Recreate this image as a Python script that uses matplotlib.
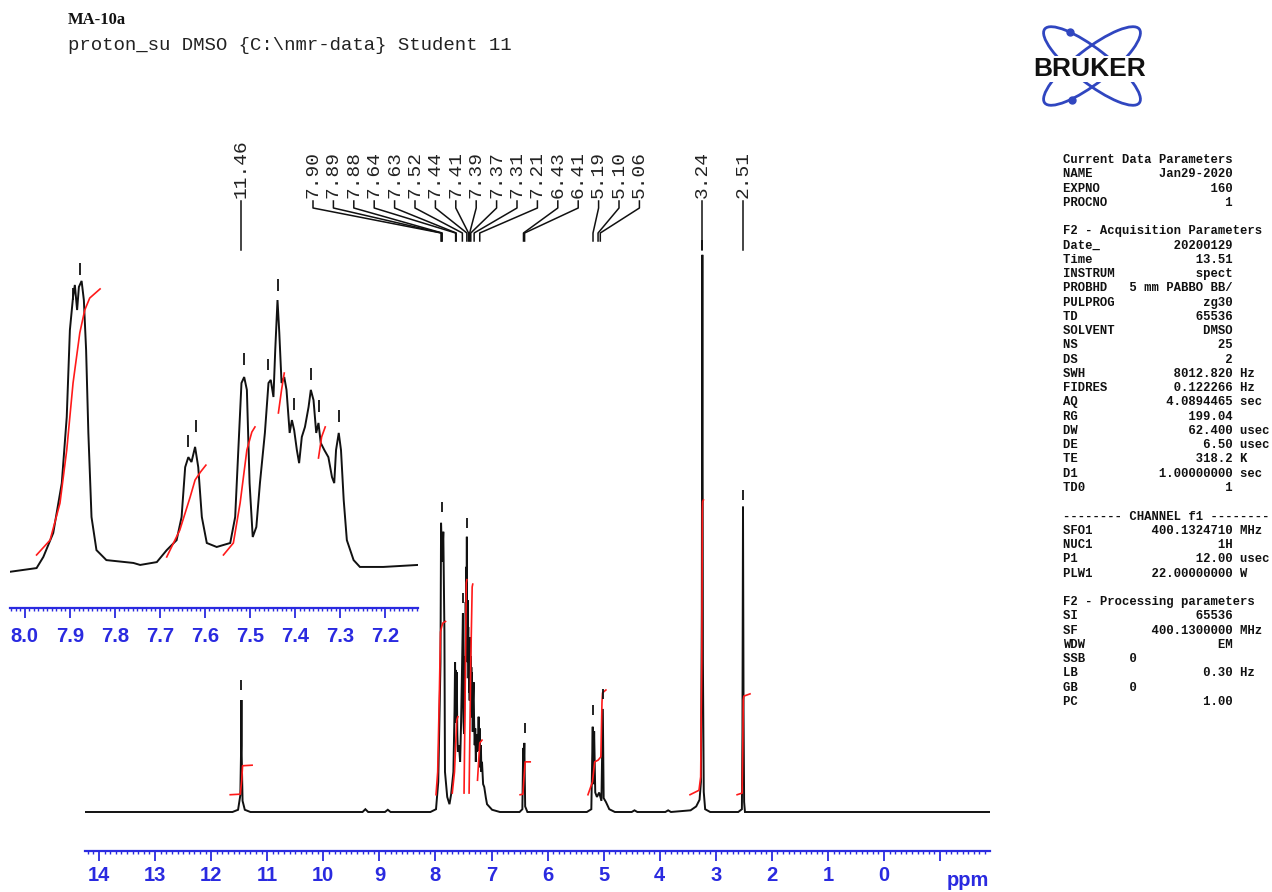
import numpy as np
import matplotlib
matplotlib.use("Agg")
import matplotlib.pyplot as plt
import matplotlib.transforms as mtransforms
from matplotlib.patches import Ellipse
from matplotlib.ticker import FixedLocator, FixedFormatter, MultipleLocator

W, H = 1272, 892
BLUE = "#2a2ae0"
RED = "#ff1a1a"
INK = "#111111"

# ---- main spectrum, relative intensity (3.24 ppm line = 100) ----
MAIN_PPM = [
    14.25, 11.62, 11.52, 11.48, 11.465, 11.46, 11.455, 11.44, 11.40, 11.30,
    9.30, 9.25, 9.20, 8.90, 8.85, 8.80,
    8.09, 7.99, 7.95, 7.91, 7.90, 7.88, 7.86, 7.84, 7.83, 7.79, 7.75, 7.72,
    7.68, 7.66, 7.65, 7.645, 7.64, 7.635, 7.63, 7.625, 7.62, 7.61,
    7.60, 7.58, 7.56, 7.545, 7.53, 7.52, 7.51, 7.505, 7.50, 7.49,
    7.48, 7.475, 7.47, 7.46, 7.455, 7.45, 7.445, 7.44, 7.435, 7.43,
    7.425, 7.42, 7.415, 7.41, 7.405, 7.40, 7.395, 7.39, 7.385, 7.38,
    7.375, 7.37, 7.365, 7.36, 7.355, 7.35, 7.345, 7.34, 7.335, 7.33,
    7.32, 7.31, 7.30, 7.29, 7.28, 7.27, 7.26, 7.25, 7.24, 7.23,
    7.22, 7.21, 7.20, 7.19, 7.18, 7.17, 7.15, 7.13, 7.10, 7.08,
    6.99, 6.85,
    6.50, 6.45, 6.435, 6.425, 6.415, 6.40, 6.36,
    5.30, 5.22, 5.195, 5.185, 5.17, 5.15, 5.12, 5.08, 5.04, 5.015, 5.00, 4.96, 4.90, 4.80,
    4.50, 4.45, 4.40, 3.90, 3.85, 3.80,
    3.45, 3.35, 3.29, 3.265, 3.25, 3.24, 3.23, 3.215, 3.19, 3.10,
    2.60, 2.535, 2.525, 2.515, 2.505, 2.495, 2.48, -1.89,
]
MAIN_INT = [
    0, 0, 0.4, 3, 12, 20.1, 10, 2, 0.4, 0,
    0, 0.5, 0, 0, 0.4, 0,
    0, 0.5, 5.4, 26.9, 51.9, 44.9, 50.3, 32.3, 7.2, 2.7, 1.4, 3.2,
    7.2, 18.0, 26.9, 20.0, 25.5, 18.0, 22.4, 16.0, 25.1, 14.0,
    10.8, 12.0, 9.0, 15.0, 23.3, 30.0, 35.7, 20.0, 16.2, 14.0,
    19.7, 28.0, 24.0, 37.7, 30.0, 44.0, 36.0, 49.4, 32.0, 26.9,
    38.0, 30.0, 33.2, 24.0, 30.0, 21.5, 28.0, 20.0, 27.0, 31.4,
    22.0, 28.0, 19.7, 26.0, 18.0, 25.1, 17.0, 22.0, 14.4, 20.0,
    23.3, 16.0, 12.0, 15.0, 9.0, 13.0, 10.8, 14.0, 12.0, 17.1,
    11.0, 15.0, 8.0, 12.0, 7.2, 9.0, 5.0, 4.5, 2.5, 1.4,
    0.4, 0,
    0, 0.5, 11.5, 8.0, 12.4, 1.0, 0,
    0, 0.5, 15.3, 5.0, 14.5, 3.5, 2.7, 3.5, 2.0, 18.5, 2.5, 1.8, 0.5, 0,
    0, 0.3, 0, 0, 0.3, 0,
    0.3, 1.0, 2.2, 5.4, 35.9, 100, 27.0, 3.6, 0.5, 0,
    0, 0.5, 14.4, 54.8, 18.0, 1.8, 0, 0,
]

MAIN_INTEGRALS = [
    ([11.66, 11.48, 11.455, 11.44, 11.27], [3.1, 3.2, 5.7, 8.3, 8.4]),
    ([7.99, 7.96, 7.93, 7.91, 7.89, 7.87, 7.82], [3.1, 7.2, 21.5, 32.3, 33.2, 33.9, 34.2]),
    ([7.70, 7.66, 7.62, 7.60], [3.4, 7.2, 16.5, 17.1]),
    ([7.49, 7.47, 7.45, 7.44], [3.4, 21.5, 41.1, 41.7]),
    ([7.40, 7.37, 7.345, 7.335], [3.4, 26.9, 40.4, 40.9]),
    ([7.25, 7.21, 7.17], [5.7, 12.4, 12.9]),
    ([6.49, 6.44, 6.42, 6.40, 6.31], [3.1, 3.2, 6.3, 9.0, 9.0]),
    ([5.28, 5.20, 5.16, 5.10, 5.05, 5.03, 5.02, 4.96], [3.1, 5.4, 9.0, 9.3, 9.9, 19.7, 21.4, 21.9]),
    ([3.46, 3.30, 3.27, 3.25, 3.24, 3.235, 3.22], [3.1, 3.9, 6.3, 26.9, 53.9, 55.7, 56.0]),
    ([2.62, 2.53, 2.52, 2.51, 2.50, 2.39], [3.1, 3.4, 10.8, 20.1, 20.8, 21.2]),
]

MAIN_MARK_PPM = [11.46, 7.88, 7.51, 7.43, 6.41, 5.19, 5.015, 3.24, 2.515]
MAIN_MARK_INT = [21.9, 53.9, 37.5, 51.0, 14.2, 17.4, 20.3, 100.9, 56.0]

# ---- expanded aromatic region ----
INSET_PPM = [
    8.033, 7.974, 7.959, 7.937, 7.918, 7.907, 7.900, 7.893, 7.889, 7.884,
    7.880, 7.874, 7.869, 7.864, 7.859, 7.852, 7.841, 7.819, 7.759, 7.744,
    7.707, 7.685, 7.663, 7.652, 7.644, 7.637, 7.630, 7.622, 7.615, 7.607,
    7.596, 7.574, 7.544, 7.533, 7.526, 7.519, 7.513, 7.507, 7.501, 7.494,
    7.486, 7.478, 7.467, 7.459, 7.454, 7.448, 7.444, 7.439, 7.435, 7.430,
    7.424, 7.419, 7.412, 7.407, 7.402, 7.396, 7.391, 7.385, 7.378, 7.370,
    7.365, 7.359, 7.353, 7.348, 7.343, 7.335, 7.326, 7.318, 7.313, 7.309,
    7.303, 7.298, 7.292, 7.285, 7.270, 7.256, 7.204, 7.127,
]
INSET_INT = [
    -0.6, 0.7, 4.6, 13.0, 30.5, 53.7, 84.2, 95.8, 100.0, 91.2,
    99.3, 101.4, 94.7, 77.2, 48.1, 18.6, 7.0, 3.5, 2.5, 1.8,
    2.8, 7.0, 10.5, 18.6, 36.1, 39.6, 37.9, 43.2, 36.1, 18.6,
    9.5, 8.1, 9.5, 18.6, 42.1, 65.6, 67.7, 63.2, 30.5, 11.6,
    15.1, 30.5, 48.1, 65.6, 66.7, 60.7, 77.2, 94.7, 83.2, 65.6,
    67.7, 63.2, 48.1, 52.6, 49.1, 42.1, 37.5, 46.7, 50.2, 57.2,
    63.2, 59.6, 48.1, 51.6, 44.6, 42.1, 39.6, 32.6, 30.5, 42.1,
    48.1, 42.1, 24.6, 10.5, 3.5, 1.1, 1.1, 1.8,
]

INSET_INTEGRALS = [
    ([7.974, 7.944, 7.922, 7.907, 7.893, 7.878, 7.867, 7.856, 7.833],
     [5.3, 10.5, 23.5, 42.1, 65.6, 83.2, 91.2, 95.4, 98.6]),
    ([7.685, 7.656, 7.633, 7.622, 7.610, 7.598], [4.6, 14.0, 25.6, 31.6, 34.4, 36.8]),
    ([7.559, 7.537, 7.522, 7.507, 7.496, 7.489], [5.3, 9.5, 23.5, 42.1, 48.4, 50.2]),
    ([7.437, 7.430, 7.424], [55.1, 63.2, 69.1]),
    ([7.348, 7.341, 7.333], [39.3, 46.7, 50.2]),
]

INSET_MARK_PPM = [7.893, 7.878, 7.638, 7.620, 7.513, 7.459, 7.437, 7.402, 7.365, 7.347, 7.302]
INSET_MARK_INT = [94.7, 103.5, 43.2, 48.4, 72.0, 70.0, 98.0, 56.0, 66.7, 55.4, 52.0]
INSET_TICKS = [8.0, 7.9, 7.8, 7.7, 7.6, 7.5, 7.4, 7.3, 7.2]

MAIN_TICKS = list(range(14, -2, -1))

PEAK_LABELS = ["11.46", "7.90", "7.89", "7.88", "7.64", "7.63", "7.52", "7.44", "7.41",
               "7.39", "7.37", "7.31", "7.21", "6.43", "6.41", "5.19", "5.10", "5.06",
               "3.24", "2.51"]
STRAIGHT_LABELS = {"11.46", "3.24", "2.51"}

TITLE = "MA-10a"
SUBTITLE = "proton_su DMSO {C:\\nmr-data} Student 11"

# (name, value, unit); value None -> line printed as is
PARAMS = [
    ("Current Data Parameters", None, None),
    ("NAME", "Jan29-2020", ""), ("EXPNO", "160", ""), ("PROCNO", "1", ""),
    ("", None, None),
    ("F2 - Acquisition Parameters", None, None),
    ("Date_", "20200129", ""), ("Time", "13.51", ""), ("INSTRUM", "spect", ""),
    ("PROBHD", "5 mm PABBO BB/", ""), ("PULPROG", "zg30", ""), ("TD", "65536", ""),
    ("SOLVENT", "DMSO", ""), ("NS", "25", ""), ("DS", "2", ""),
    ("SWH", "8012.820", "Hz"), ("FIDRES", "0.122266", "Hz"), ("AQ", "4.0894465", "sec"),
    ("RG", "199.04", ""), ("DW", "62.400", "usec"), ("DE", "6.50", "usec"),
    ("TE", "318.2", "K"), ("D1", "1.00000000", "sec"), ("TD0", "1", ""),
    ("", None, None),
    ("-------- CHANNEL f1 --------", None, None),
    ("SFO1", "400.1324710", "MHz"), ("NUC1", "1H", ""), ("P1", "12.00", "usec"),
    ("PLW1", "22.00000000", "W"),
    ("", None, None),
    ("F2 - Processing parameters", None, None),
    ("SI", "65536", ""), ("SF", "400.1300000", "MHz"), ("WDW", "EM", ""),
    ("SSB      0", None, None), ("LB", "0.30", "Hz"), ("GB       0", None, None),
    ("PC", "1.00", ""),
]


def style_ppm_axis(ax, label_pad):
    for side in ("top", "left", "right"):
        ax.spines[side].set_visible(False)
    ax.spines["bottom"].set_color(BLUE)
    ax.spines["bottom"].set_linewidth(1.6)
    ax.set_yticks([])
    ax.set_facecolor("none")
    ax.tick_params(axis="x", which="major", direction="out", length=7.5, width=1.3,
                   color=BLUE, pad=label_pad, labelsize=14.5, labelcolor=BLUE)
    ax.tick_params(axis="x", which="minor", direction="out", length=2.5, width=1.0, color=BLUE)
    for lab in ax.get_xticklabels():
        lab.set_fontweight("bold")
        lab.set_fontfamily("Liberation Sans")


def draw_spectrum(ax, ppm, inten, integrals, mark_ppm, mark_int, mark_len):
    ax.plot(ppm, inten, color=INK, lw=1.4, solid_joinstyle="miter")
    for ip, ii in integrals:
        ax.plot(ip, ii, color=RED, lw=1.2)
    ax.vlines(mark_ppm, mark_int, np.array(mark_int) + mark_len, color=INK, lw=1.3)


def main():
    fig = plt.figure(figsize=(W / 100, H / 100), dpi=100)

    # ---- full spectrum ----
    ax = fig.add_axes([85 / W, 1 - 851 / H, 905 / W, (851 - 120) / H])
    ax.set_xlim(14.25, -1.89)
    ax.set_ylim(-7.0, 124.2)
    ax.xaxis.set_major_locator(FixedLocator(MAIN_TICKS))
    ax.xaxis.set_major_formatter(FixedFormatter([str(t) if t >= 0 else "" for t in MAIN_TICKS]))
    ax.xaxis.set_minor_locator(MultipleLocator(0.1))
    style_ppm_axis(ax, 3.0)
    draw_spectrum(ax, MAIN_PPM, MAIN_INT, MAIN_INTEGRALS, MAIN_MARK_PPM, MAIN_MARK_INT, 1.8)
    fig.text(968 / W, 1 - 880 / H, "ppm", color=BLUE, fontsize=14.5, fontweight="bold",
             family="Liberation Sans", ha="center", va="center")

    # ---- peak labels with fan lines ----
    top_px = mtransforms.Affine2D().scale(1 / W, -1 / H).translate(0, 1) + fig.transFigure
    lab_tr = mtransforms.blended_transform_factory(ax.transData, top_px)
    inv = ax.transData.inverted()
    fan = [l for l in PEAK_LABELS if l not in STRAIGHT_LABELS]
    fan_x = {l: inv.transform((313 + 20.4 * i, 0))[0] for i, l in enumerate(fan)}
    for lab in PEAK_LABELS:
        p = float(lab)
        lx = p if lab in STRAIGHT_LABELS else fan_x[lab]
        ax.text(lx, 198, lab, transform=lab_tr, rotation=90, ha="center", va="bottom",
                family="Liberation Mono", fontsize=14, color="#222222", clip_on=False)
        if lab in STRAIGHT_LABELS:
            ax.plot([p, p], [201, 250], transform=lab_tr, color=INK, lw=1.1, clip_on=False)
        else:
            ax.plot([lx, lx, p, p], [201, 208, 233, 241], transform=lab_tr,
                    color=INK, lw=1.1, clip_on=False)

    # ---- expansion 8.0 - 7.2 ppm ----
    axi = fig.add_axes([10 / W, 1 - 608 / H, 408 / W, (608 - 255) / H])
    axi.set_xlim(8.033, 7.127)
    axi.set_ylim(-13.3, 110.5)
    axi.xaxis.set_major_locator(FixedLocator(INSET_TICKS))
    axi.xaxis.set_major_formatter(FixedFormatter([f"{t:.1f}" for t in INSET_TICKS]))
    axi.xaxis.set_minor_locator(MultipleLocator(0.01))
    style_ppm_axis(axi, 6.0)
    draw_spectrum(axi, INSET_PPM, INSET_INT, INSET_INTEGRALS, INSET_MARK_PPM, INSET_MARK_INT, 4.2)

    # ---- header ----
    fig.text(68 / W, 1 - 20 / H, TITLE, family="Liberation Serif", fontweight="bold",
             fontsize=12, va="center", color=INK)
    fig.text(68 / W, 1 - 45 / H, SUBTITLE, family="Liberation Mono", fontsize=13.7,
             va="center", color="#222222")

    # ---- parameter table ----
    row = 0
    for name, value, unit in PARAMS:
        if value is None:
            line = name
        else:
            line = name + value.rjust(23 - len(name))
            if unit:
                line += " " + unit
        if line:
            fig.text(1063 / W, 1 - (160 + 14.26 * row) / H, line, family="Liberation Mono",
                     fontweight="bold", fontsize=8.8, va="center", color=INK)
        row += 1

    # ---- Bruker logo ----
    axl = fig.add_axes([1020 / W, 1 - 112 / H, 145 / W, 94 / H])
    axl.set_xlim(1020, 1165)
    axl.set_ylim(112, 18)
    axl.axis("off")
    for ang in (38, -38):
        axl.add_patch(Ellipse((1092, 66), 120, 34, angle=ang, fill=False,
                              edgecolor="#3046c0", lw=2.0))
    axl.plot([1070, 1072], [32, 100], "o", color="#3046c0", ms=5)
    axl.text(1090, 69, "BRUKER", ha="center", va="center", fontsize=19, fontweight="heavy",
             family="Liberation Sans", color="#111111",
             bbox=dict(facecolor="white", edgecolor="none", pad=0.5))

    fig.savefig("out.png", dpi=100)
    plt.close(fig)


if __name__ == "__main__":
    main()
